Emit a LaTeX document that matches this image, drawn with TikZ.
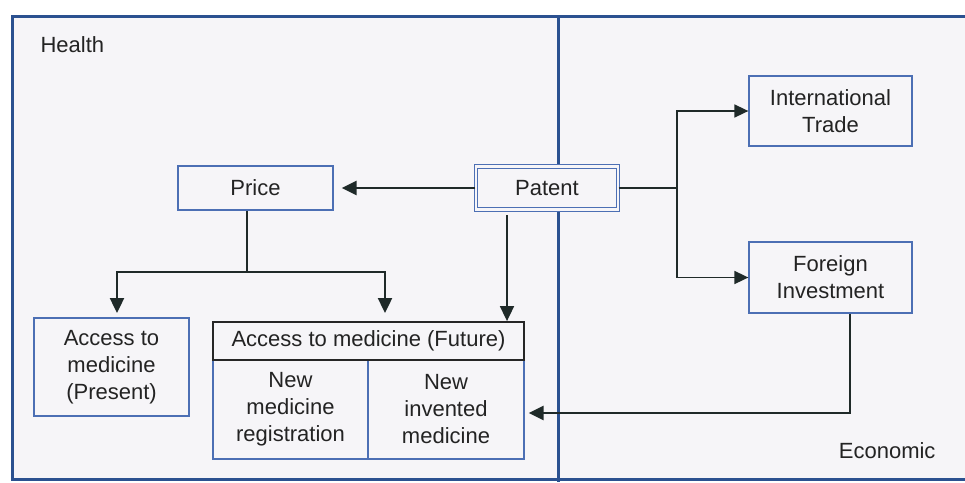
\documentclass[tikz,border=0pt]{standalone}
\usepackage{fontspec}
\setmainfont{Liberation Sans}
\usetikzlibrary{arrows.meta,calc}
\definecolor{framebl}{HTML}{2B5190}
\definecolor{boxbl}{HTML}{4C6FB4}
\definecolor{ink}{HTML}{1F2A29}
\definecolor{txt}{HTML}{232323}
\definecolor{paper}{HTML}{F6F5F8}

\begin{document}
\begin{tikzpicture}[x=1pt,y=-1pt,
  every node/.style={font=\fontsize{22}{27}\selectfont, text=txt},
  box/.style={draw=boxbl, line width=1.3pt, fill=paper, align=center, inner sep=0pt},
  headbox/.style={draw=black!85, line width=1.8pt, fill=paper, align=center, inner sep=0pt},
  dbox/.style={draw=boxbl, line width=1.1pt, double=paper, double distance=2.4pt,
    fill=paper, align=center, inner sep=0pt},
  link/.style={draw=ink, line width=2.4pt},
  lightlink/.style={draw=ink, line width=1.7pt},
  tip/.style={-{Triangle[length=15pt,width=14pt]}},
  smalltip/.style={-{Triangle[length=14pt,width=13pt]}}
]
\useasboundingbox (0,0) rectangle (965,482);
\fill[white] (0,0) rectangle (965,482);
\fill[paper] (12,16) rectangle (965,479);

% panel frame and the divider between the two fields
\draw[framebl, line width=3pt] (975,479) -- (12,479) -- (12,16) -- (975,16);
\draw[framebl, line width=3pt] (558,16) -- (558,482);

\node[anchor=west] (health) at (37,45) {Health};
\node[anchor=east] (econ) at (939,451) {Economic};

% boxes
\node[box, minimum width=155pt, minimum height=44pt] (Price) at (255.5,188) {Price};
\node[dbox, minimum width=142pt, minimum height=43pt] (Patent) at (547,188) {Patent};
\node[box, minimum width=163pt, minimum height=70pt] (Trade) at (830.5,111) {International\\Trade};
\node[box, minimum width=163pt, minimum height=71pt] (Foreign) at (830.5,277.5) {Foreign\\Investment};
\node[box, minimum width=155pt, minimum height=98pt] (Present) at (111.5,367) {Access to\\medicine\\(Present)};
\node[box, minimum width=155pt, minimum height=99pt] (Registration) at (290.5,409.5) {New\\medicine\\registration};
\node[box, minimum width=156pt, minimum height=99pt] (Invented) at (446,409.5) {New\\invented\\medicine};
\node[headbox, minimum width=311pt, minimum height=38pt] (Future) at (368.5,341) {Access to medicine (Future)};

% connectors
\draw[link, tip, shorten >=8pt] (Patent.west) -- (Patent.west -| Price.east);

\coordinate (fork) at (247,272);
\coordinate (pl) at (117,313);
\coordinate (pr) at (385,313);
\draw[link] (fork |- Price.south) -- (fork);
\draw[link, tip] (fork) -| (pl);
\draw[link, tip] (fork) -| (pr);

\coordinate (px) at (507,0);
\draw[lightlink, tip] ($(Patent.south -| px)+(0,5)$) -- (Future.north -| px);

\coordinate (bx) at (677,0);
\draw[lightlink] (Patent.east) -- (Patent.east -| bx);
\draw[lightlink, smalltip] (Patent.east -| bx) |- (Trade.west);
\draw[lightlink, smalltip] (Patent.east -| bx) |- (Foreign.west);

\coordinate (fx) at (850,413);
\draw[link, tip, shorten >=4pt] (Foreign.south -| fx) -- (fx) -- (fx -| Invented.east);
\end{tikzpicture}
\end{document}
